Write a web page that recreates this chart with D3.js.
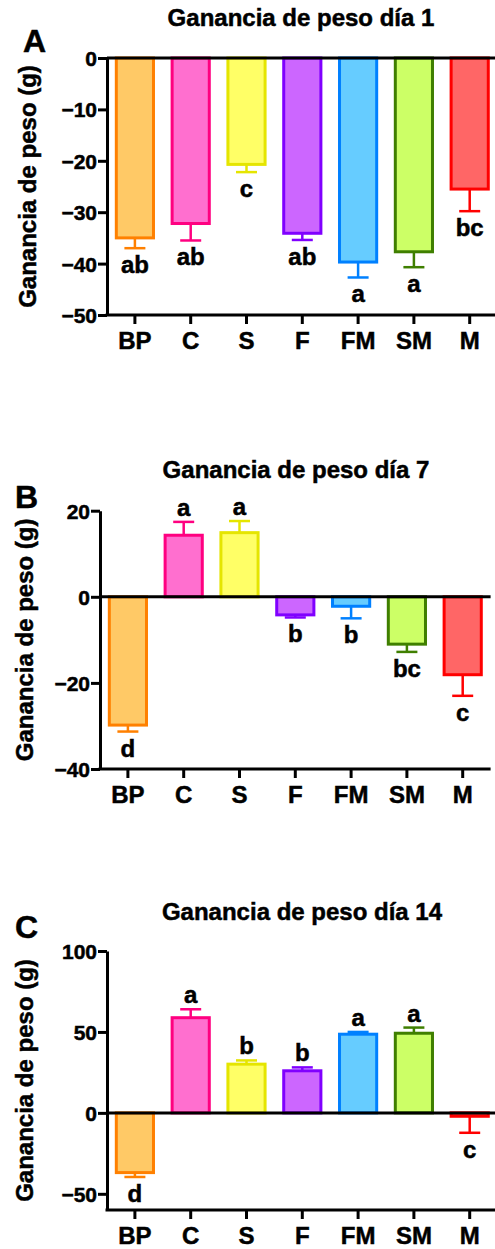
<!DOCTYPE html>
<html>
<head>
<meta charset="utf-8">
<script src="https://cdn.jsdelivr.net/npm/d3@7"></script>
<style>
  html, body { margin: 0; padding: 0; background: #fff; }
  svg { display: block; }
  text { font-family: "Liberation Sans", Arial, Helvetica, sans-serif; font-weight: bold; fill: #000;
         stroke: #000; stroke-width: 0.5px; }
</style>
</head>
<body>
<svg id="fig" width="495" height="1249"></svg>
<script>
// Treatment groups and their colours
const categories = ["BP", "C", "S", "F", "FM", "SM", "M"];
const fillColors = ["#FFC966", "#FF6FCF", "#FFFF66", "#CC66FF", "#66CCFF", "#CCFF66", "#FF6666"];
const strokeColors = ["#FF8000", "#FF0080", "#E5E500", "#8000FF", "#0080FF", "#3F7F00", "#FF0000"];

// Day 1
const day1Mean = [-35.0, -32.2, -20.7, -34.1, -39.7, -37.7, -25.5];
const day1Err = [2.0, 3.3, 1.5, 1.3, 3.0, 3.0, 4.3];
const day1Letters = ["ab", "ab", "c", "ab", "a", "a", "bc"];
const day1Ticks = [0, -10, -20, -30, -40, -50];
const day1Domain = [-50, 0];

// Day 7
const day7Mean = [-29.8, 14.3, 14.9, -4.2, -2.2, -11.0, -18.1];
const day7Err = [1.5, 3.1, 2.7, 0.6, 2.8, 1.8, 4.9];
const day7Letters = ["d", "a", "a", "b", "b", "bc", "c"];
const day7Ticks = [20, 0, -20, -40];
const day7Domain = [-40, 20];

// Day 14
const day14Mean = [-36.9, 58.8, 30.1, 26.0, 48.6, 49.2, -2.1];
const day14Err = [2.7, 5.2, 2.3, 2.1, 1.4, 3.5, 10.2];
const day14Letters = ["d", "a", "b", "b", "a", "a", "c"];
const day14Ticks = [100, 50, 0, -50];
const day14Domain = [-60, 100];

const titles = ["Ganancia de peso día 1", "Ganancia de peso día 7", "Ganancia de peso día 14"];
const panelTags = ["A", "B", "C"];
const yLabel = "Ganancia de peso (g)";

// Panel geometry (pixels)
const panels = [
  { mean: day1Mean, err: day1Err, letters: day1Letters, ticks: day1Ticks, domain: day1Domain,
    x0: 107, top: 58, bottom: 315, titleX: 301, titleY: 26, tagX: 23, tagY: 52, labelX: 28 },
  { mean: day7Mean, err: day7Err, letters: day7Letters, ticks: day7Ticks, domain: day7Domain,
    x0: 100, top: 510.7, bottom: 769, titleX: 296, titleY: 478, tagX: 15, tagY: 508, labelX: 25 },
  { mean: day14Mean, err: day14Err, letters: day14Letters, ticks: day14Ticks, domain: day14Domain,
    x0: 107, top: 951, bottom: 1210, titleX: 302, titleY: 920, tagX: 15, tagY: 938, labelX: 25 }
];

const svg = d3.select("#fig");
const step = 55.8;
const axisW = 3;

panels.forEach((p, pi) => {
  const g = svg.append("g");
  const x = d3.scaleBand().domain(categories)
    .range([p.x0, p.x0 + step * categories.length])
    .paddingInner(0.28).paddingOuter(0.14);
  const y = d3.scaleLinear().domain(p.domain).range([p.bottom, p.top]);
  const bw = x.bandwidth();
  const rows = categories.map((c, i) => ({
    cat: c, v: p.mean[i], e: p.err[i], lab: p.letters[i], fill: fillColors[i], stroke: strokeColors[i]
  }));

  // Bars
  g.selectAll("rect.bar").data(rows).enter().append("rect")
    .attr("class", "bar")
    .attr("x", d => x(d.cat) + 1.5)
    .attr("width", bw - 3)
    .attr("y", d => Math.min(y(0), y(d.v)))
    .attr("height", d => Math.abs(y(d.v) - y(0)))
    .attr("fill", d => d.fill)
    .attr("stroke", d => d.stroke)
    .attr("stroke-width", 3);

  // Error bars (outward direction only)
  const capW = 21;
  const errEnd = d => d.v >= 0 ? d.v + d.e : d.v - d.e;
  g.selectAll("line.err").data(rows).enter().append("line")
    .attr("x1", d => x(d.cat) + bw / 2).attr("x2", d => x(d.cat) + bw / 2)
    .attr("y1", d => y(d.v)).attr("y2", d => y(errEnd(d)))
    .attr("stroke", d => d.stroke).attr("stroke-width", 2.5);
  g.selectAll("line.cap").data(rows).enter().append("line")
    .attr("x1", d => x(d.cat) + bw / 2 - capW / 2).attr("x2", d => x(d.cat) + bw / 2 + capW / 2)
    .attr("y1", d => y(errEnd(d))).attr("y2", d => y(errEnd(d)))
    .attr("stroke", d => d.stroke).attr("stroke-width", 2.5);

  // Significance letters
  g.selectAll("text.sig").data(rows).enter().append("text")
    .attr("x", d => x(d.cat) + bw / 2)
    .attr("y", d => d.v >= 0 ? y(errEnd(d)) - 6 : y(errEnd(d)) + 25)
    .attr("text-anchor", "middle")
    .style("font-size", "24px")
    .text(d => d.lab);

  // Y axis
  const yAxis = d3.axisLeft(y).tickValues(p.ticks).tickSize(9).tickSizeOuter(0).tickPadding(1);
  const ya = g.append("g").attr("transform", `translate(${p.x0},0)`).call(yAxis);
  ya.select(".domain").attr("stroke-width", axisW).attr("stroke", "#000");
  ya.selectAll(".tick line").attr("stroke-width", axisW).attr("stroke", "#000");
  ya.selectAll(".tick text").style("font-size", "21px").attr("dy", "0.36em")
    .attr("fill", "#000").style("stroke", "#000");

  // X axis at the bottom with category ticks
  const xAxis = d3.axisBottom(x).tickSize(9).tickSizeOuter(0).tickPadding(8);
  const xa = g.append("g").attr("transform", `translate(0,${p.bottom})`).call(xAxis);
  xa.select(".domain").attr("stroke-width", axisW).attr("stroke", "#000")
    .attr("d", `M${p.x0 - 1.5},0H${p.x0 + step * categories.length}`);
  xa.selectAll(".tick line").attr("stroke-width", axisW).attr("stroke", "#000");
  xa.selectAll(".tick text").style("font-size", "24px").attr("dy", "0.71em")
    .attr("fill", "#000").style("stroke", "#000");

  // Zero baseline
  g.append("line")
    .attr("x1", p.x0).attr("x2", p.x0 + step * categories.length)
    .attr("y1", y(0)).attr("y2", y(0))
    .attr("stroke", "#000").attr("stroke-width", axisW);

  // Y axis title
  g.append("text")
    .attr("transform", `translate(${p.labelX},${(p.top + p.bottom) / 2}) rotate(-90)`)
    .attr("text-anchor", "middle")
    .attr("dy", "0.35em")
    .style("font-size", "24px")
    .text(yLabel);

  // Chart title
  g.append("text")
    .attr("x", p.titleX).attr("y", p.titleY)
    .attr("text-anchor", "middle")
    .style("font-size", "24px")
    .text(titles[pi]);

  // Panel tag
  g.append("text")
    .attr("x", p.tagX).attr("y", p.tagY)
    .style("font-size", "32px")
    .text(panelTags[pi]);
});
</script>
</body>
</html>
